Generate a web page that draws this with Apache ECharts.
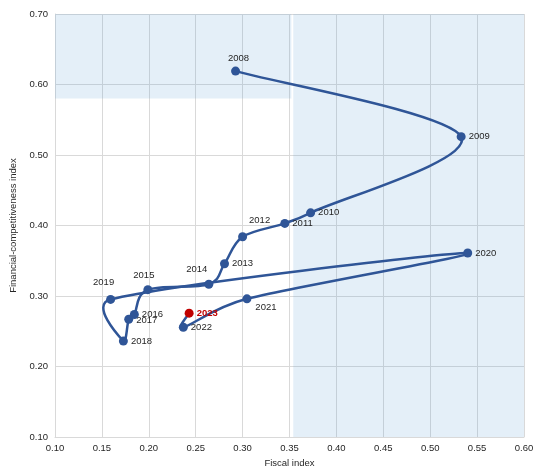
<!DOCTYPE html>
<html>
<head>
<meta charset="utf-8">
<script src="https://cdn.jsdelivr.net/npm/echarts@6/dist/echarts.min.js"></script>
<style>html,body{margin:0;padding:0;background:#fff}#c{width:534px;height:468px}</style>
</head>
<body>
<div id="c"></div>
<script>
// ---- data ----
const years = ['2008','2009','2010','2011','2012','2013','2014','2015','2016','2017','2018','2019','2020','2021','2022','2023'];
const fiscalIndex = [0.2925,0.533,0.3725,0.345,0.300,0.2807,0.264,0.199,0.1846,0.1786,0.1729,0.1593,0.540,0.3046,0.2368,0.243];
const finCompIndex = [0.619,0.526,0.418,0.403,0.384,0.3457,0.3167,0.309,0.2738,0.267,0.2360,0.2952,0.361,0.296,0.2556,0.2757];
const xTicks = [0.10,0.15,0.20,0.25,0.30,0.35,0.40,0.45,0.50,0.55,0.60];
const yTicks = [0.10,0.20,0.30,0.40,0.50,0.60,0.70];
// shaded zones (data space)
const zoneTop = [[0.10,0.58],[0.352,0.70]];
const zoneRight = [[0.354,0.10],[0.60,0.70]];
const highlightYear = '2023';

// ---- label placement (style only) ----
const labelPlace = {
  '2008': {position:'inside', offset:[3,-13]},
  '2012': {position:'inside', offset:[17,-16]},
  '2014': {position:'inside', offset:[-12,-15]},
  '2015': {position:'inside', offset:[-4,-14]},
  '2019': {position:'inside', offset:[-7,-17]},
  '2021': {position:'inside', offset:[19,9]},
  '2017': {position:'right', offset:[0,1]},
};

const BLUE = '#2f5597', RED = '#c00000';
const fontFam = '"Liberation Sans", Arial, sans-serif';
const TENSION = 1/6, CAP = 0.5;

const pts = years.map((y,i)=>[fiscalIndex[i], finCompIndex[i]]);

const seriesData = years.map((y,i)=>{
  const p = labelPlace[y] || {position:'right', offset:[0,0]};
  const isHi = y === highlightYear;
  return {
    value:pts[i],
    name:y,
    itemStyle:{color: isHi ? RED : BLUE, opacity:1},
    label:{show:true, formatter:y, position:p.position, offset:p.offset, distance:3,
      color: isHi ? RED : '#262626', fontWeight: isHi ? 'bold':'normal',
      fontSize:9.5, fontFamily:fontFam}
  };
});

// Excel-like smoothed segment, computed in pixel space via the axes
function renderSeg(params, api){
  const i = params.dataIndex;
  const n = pts.length;
  if (i >= n-1) return null;
  const P = k => api.coord(pts[Math.max(0, Math.min(n-1, k))]);
  const p0 = P(i-1), p1 = P(i), p2 = P(i+1), p3 = P(i+2);
  const dist = (a,b)=>Math.hypot(a[0]-b[0], a[1]-b[1]);
  const seg = dist(p1,p2);
  function cp(prev, cur, next, sign){
    const vx = next[0]-prev[0], vy = next[1]-prev[1];
    const vl = Math.hypot(vx,vy);
    if (vl === 0) return cur.slice();
    const len = Math.min(vl*TENSION, CAP*seg);
    return [cur[0] + sign*vx/vl*len, cur[1] + sign*vy/vl*len];
  }
  const c1 = cp(p0, p1, p2, 1);
  const c2 = cp(p1, p2, p3, -1);
  return {
    type:'bezierCurve',
    shape:{x1:p1[0], y1:p1[1], x2:p2[0], y2:p2[1], cpx1:c1[0], cpy1:c1[1], cpx2:c2[0], cpy2:c2[1]},
    style:{stroke:BLUE, lineWidth:2.5, fill:null},
    silent:true
  };
}

const chart = echarts.init(document.getElementById('c'), null, {renderer:'canvas'});
chart.setOption({
  animation:false,
  grid:{left:55, right:10, top:14, bottom:31, containLabel:false, outerBoundsMode:'none'},
  xAxis:{type:'value', min:xTicks[0], max:xTicks[xTicks.length-1], interval:0.05,
    name:'Fiscal index', nameLocation:'middle', nameGap:21,
    nameTextStyle:{fontSize:9.5, color:'#262626', fontFamily:fontFam},
    axisLine:{show:true, lineStyle:{color:'#d9d9d9', width:1}}, axisTick:{show:false},
    axisLabel:{formatter:v=>v.toFixed(2), fontSize:9.5, color:'#262626', fontFamily:fontFam, margin:6},
    splitLine:{show:true, lineStyle:{color:'#d9d9d9', width:1}}},
  yAxis:{type:'value', min:yTicks[0], max:yTicks[yTicks.length-1], interval:0.1,
    name:'Financial-competitiveness index', nameLocation:'middle', nameGap:35, nameRotate:90,
    nameTextStyle:{fontSize:9.5, color:'#262626', fontFamily:fontFam},
    axisLine:{show:true, lineStyle:{color:'#d9d9d9', width:1}}, axisTick:{show:false},
    axisLabel:{formatter:v=>v.toFixed(2), fontSize:9.5, color:'#262626', fontFamily:fontFam, margin:7},
    splitLine:{show:true, lineStyle:{color:'#d9d9d9', width:1}}},
  series:[
  {
    type:'custom', data:pts, renderItem:renderSeg, clip:false, z:2,
    encode:{x:0, y:1},
    markArea:{silent:true, itemStyle:{color:'rgba(91,155,213,0.165)'},
      data:[
        [{coord:zoneTop[0]},{coord:zoneTop[1]}],
        [{coord:zoneRight[0]},{coord:zoneRight[1]}]
      ]}
  },
  {
    type:'scatter', data:seriesData, symbol:'circle', symbolSize:9, z:3
  }]
});
</script>
</body>
</html>
